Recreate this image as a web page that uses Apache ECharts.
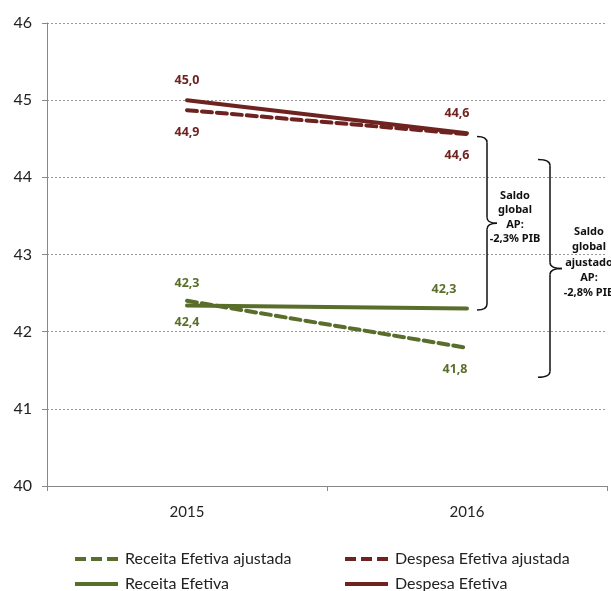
<!DOCTYPE html>
<html>
<head>
<meta charset="utf-8">
<script src="https://cdn.jsdelivr.net/npm/echarts@6/dist/echarts.min.js"></script>
<style>
  html, body { margin: 0; padding: 0; background: #fff; }
  #chart { width: 611px; height: 591px; }
</style>
</head>
<body>
<div id="chart"></div>
<script>
// Years on the category axis
const years = ['2015', '2016'];

// Values in % of GDP
const receitaAjustada = [42.4, 41.79];
const despesaAjustada = [44.87, 44.56];
const receitaEfetiva = [42.34, 42.3];
const despesaEfetiva = [45.0, 44.57];

// Y axis range
const yMin = 40;
const yMax = 46;

// Balance annotations: [top value, bottom value, text lines]
const saldoGlobal = [44.53, 42.28, ['Saldo', 'global', 'AP:', '-2,3% PIB']];
const saldoAjustado = [44.23, 41.41, ['Saldo', 'global', 'ajustado', 'AP:', '-2,8% PIB']];

const GREEN = '#5a6e2b';
const RED = '#6e2320';
const FONT = 'Lato, "Open Sans", sans-serif';
const BOLD_FONT = '"Noto Sans", "Open Sans", sans-serif';

// Legend icons: solid bar and three-dash bar
const ICON_SOLID = 'path://M0,0H43V4H0Z';
const ICON_DASHED = 'path://M0,0H11V4H0Z M16,0H27V4H16Z M32,0H43V4H32Z';

const fmt = v => v.toFixed(1).replace('.', ',');

function labelFor(color, pos, distance, dx) {
  return {
    show: true,
    position: pos,
    distance: distance,
    offset: [dx, 0],
    color: color,
    fontFamily: BOLD_FONT,
    fontWeight: 'bold',
    fontSize: 12.5,
    formatter: p => fmt(p.value)
  };
}

function makeSeries(name, values, color, dashed, labels) {
  return {
    name: name,
    type: 'line',
    data: values.map((v, i) => ({ value: v, label: labels[i] })),
    symbol: 'circle',
    symbolSize: 0.1,
    itemStyle: { color: color },
    lineStyle: { color: color, width: 4, type: dashed ? [10, 5] : 'solid', cap: 'round' },
    animation: false,
    z: dashed ? 2 : 3
  };
}

function legendBlock(names, icons, left) {
  return {
    data: names.map((n, i) => ({ name: n, icon: icons[i] })),
    orient: 'vertical',
    left: left,
    top: 546,
    height: 100,
    itemWidth: 43,
    itemHeight: 4,
    itemGap: 9,
    textStyle: { color: '#222', fontSize: 16, fontFamily: FONT, padding: [0, 0, 0, 2] }
  };
}

const chart = echarts.init(document.getElementById('chart'), null, { renderer: 'canvas' });

const option = {
  animation: false,
  grid: { left: 47, right: 4, top: 23, bottom: 105 },
  xAxis: {
    type: 'category',
    data: years,
    boundaryGap: true,
    axisLine: { lineStyle: { color: '#888', width: 1 } },
    axisTick: { show: true, length: 5, lineStyle: { color: '#888' } },
    axisLabel: { color: '#222', fontSize: 15, fontFamily: FONT, margin: 19 }
  },
  yAxis: {
    type: 'value',
    min: yMin,
    max: yMax,
    interval: 1,
    axisLine: { show: true, lineStyle: { color: '#888', width: 1 } },
    axisTick: { show: true, length: 5, lineStyle: { color: '#888' } },
    axisLabel: { color: '#222', fontSize: 16, fontFamily: FONT, margin: 15 },
    splitLine: { show: true, lineStyle: { color: '#999', type: [2, 2], width: 1 } }
  },
  legend: [
    legendBlock(['Receita Efetiva ajustada', 'Receita Efetiva'], [ICON_DASHED, ICON_SOLID], 70),
    legendBlock(['Despesa Efetiva ajustada', 'Despesa Efetiva'], [ICON_DASHED, ICON_SOLID], 340)
  ],
  series: [
    makeSeries('Receita Efetiva ajustada', receitaAjustada, GREEN, true, [
      labelFor(GREEN, 'bottom', 15, 0), labelFor(GREEN, 'bottom', 15, -12)
    ]),
    makeSeries('Receita Efetiva', receitaEfetiva, GREEN, false, [
      labelFor(GREEN, 'top', 15, 0), labelFor(GREEN, 'top', 13, -23)
    ]),
    makeSeries('Despesa Efetiva ajustada', despesaAjustada, RED, true, [
      labelFor(RED, 'bottom', 16, 0), labelFor(RED, 'bottom', 15, -10)
    ]),
    makeSeries('Despesa Efetiva', despesaEfetiva, RED, false, [
      labelFor(RED, 'top', 13, 0), labelFor(RED, 'top', 13, -10)
    ])
  ]
};

chart.setOption(option);

// Curly brace annotations on the right, anchored to value positions
const braceStyle = { stroke: '#111', lineWidth: 1.5, fill: null };

function curve(x1, y1, cx, cy, x2, y2) {
  return { type: 'bezierCurve', shape: { x1: x1, y1: y1, cpx1: cx, cpy1: cy, x2: x2, y2: y2 }, style: braceStyle };
}
function seg(x1, y1, x2, y2) {
  return { type: 'line', shape: { x1: x1, y1: y1, x2: x2, y2: y2 }, style: braceStyle };
}

function brace(xLeft, xSpine, xTip, topVal, botVal) {
  const yTop = chart.convertToPixel({ yAxisIndex: 0 }, topVal);
  const yBot = chart.convertToPixel({ yAxisIndex: 0 }, botVal);
  const yMid = (yTop + yBot) / 2;
  const r = 6;
  return {
    yMid: yMid,
    els: [
      curve(xLeft, yTop, xSpine, yTop, xSpine, yTop + r),
      seg(xSpine, yTop + r, xSpine, yMid - r),
      curve(xSpine, yMid - r, xSpine, yMid, xTip, yMid),
      curve(xTip, yMid, xSpine, yMid, xSpine, yMid + r),
      seg(xSpine, yMid + r, xSpine, yBot - r),
      curve(xSpine, yBot - r, xSpine, yBot, xLeft, yBot)
    ]
  };
}

function textBlock(cx, cy, lines, lh) {
  const y0 = cy - (lines.length - 1) * lh / 2;
  return lines.map((t, i) => ({
    type: 'text',
    style: {
      text: t,
      x: cx,
      y: y0 + i * lh,
      align: 'center',
      verticalAlign: 'middle',
      fill: '#111',
      font: 'bold 11px ' + BOLD_FONT
    }
  }));
}

const b1 = brace(477, 487, 497, saldoGlobal[0], saldoGlobal[1]);
const b2 = brace(538, 550, 562, saldoAjustado[0], saldoAjustado[1]);

chart.setOption({
  graphic: [
    ...b1.els,
    ...b2.els,
    ...textBlock(515, b1.yMid - 6, saldoGlobal[2], 14.5),
    ...textBlock(589, b2.yMid - 6, saldoAjustado[2], 15.3)
  ]
});
</script>
</body>
</html>
